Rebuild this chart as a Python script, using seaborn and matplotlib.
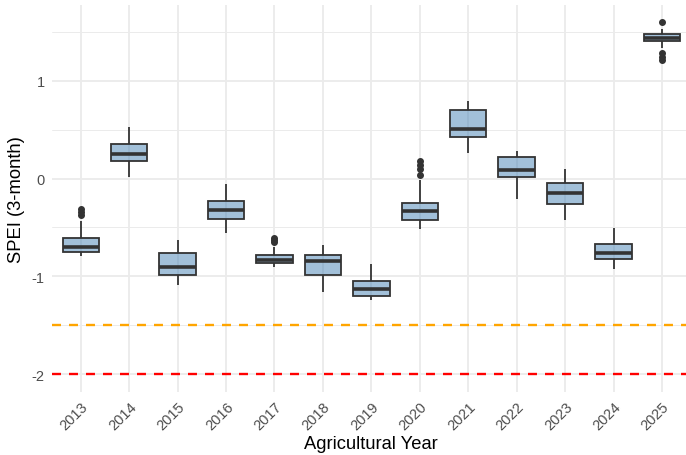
import numpy as np
import pandas as pd
import matplotlib
matplotlib.use("Agg")
import matplotlib.pyplot as plt
from matplotlib.ticker import MultipleLocator, FuncFormatter
import seaborn as sns

# SPEI (3-month) values for each agricultural year
years = ["2013", "2014", "2015", "2016", "2017", "2018", "2019",
         "2020", "2021", "2022", "2023", "2024", "2025"]

spei_2013 = [-0.79, -0.78, -0.77, -0.76, -0.76, -0.75, -0.74, -0.73, -0.72, -0.71, -0.70,
             -0.69, -0.67, -0.65, -0.63, -0.61, -0.55, -0.43, -0.37, -0.34, -0.31]
spei_2014 = [0.02, 0.07, 0.11, 0.14, 0.16, 0.18, 0.20, 0.21, 0.23, 0.24, 0.25,
             0.27, 0.29, 0.31, 0.33, 0.35, 0.38, 0.41, 0.44, 0.48, 0.53]
spei_2015 = [-1.09, -1.06, -1.04, -1.02, -1.00, -0.99, -0.97, -0.95, -0.93, -0.91, -0.90,
             -0.88, -0.85, -0.82, -0.79, -0.76, -0.73, -0.70, -0.68, -0.65, -0.63]
spei_2016 = [-0.56, -0.52, -0.48, -0.45, -0.43, -0.41, -0.39, -0.37, -0.35, -0.33, -0.32,
             -0.30, -0.28, -0.26, -0.24, -0.23, -0.19, -0.15, -0.12, -0.09, -0.06]
spei_2017 = [-0.90, -0.89, -0.88, -0.875, -0.87, -0.865, -0.86, -0.85, -0.845, -0.84, -0.83,
             -0.82, -0.81, -0.80, -0.79, -0.78, -0.76, -0.70, -0.65, -0.63, -0.61]
spei_2018 = [-1.16, -1.12, -1.08, -1.04, -1.01, -0.99, -0.96, -0.93, -0.90, -0.87, -0.84,
             -0.83, -0.82, -0.81, -0.80, -0.78, -0.76, -0.74, -0.72, -0.70, -0.68]
spei_2019 = [-1.24, -1.23, -1.22, -1.21, -1.21, -1.20, -1.18, -1.17, -1.15, -1.14, -1.13,
             -1.11, -1.10, -1.08, -1.07, -1.05, -1.01, -0.97, -0.94, -0.90, -0.87]
spei_2020 = [-0.52, -0.50, -0.47, -0.45, -0.43, -0.425, -0.40, -0.38, -0.36, -0.35, -0.33,
             -0.31, -0.30, -0.28, -0.26, -0.245, -0.02, 0.04, 0.10, 0.14, 0.18]
spei_2021 = [0.26, 0.30, 0.34, 0.37, 0.40, 0.42, 0.44, 0.46, 0.48, 0.49, 0.51,
             0.54, 0.58, 0.62, 0.66, 0.70, 0.72, 0.74, 0.76, 0.78, 0.79]
spei_2022 = [-0.21, -0.15, -0.10, -0.05, -0.01, 0.02, 0.04, 0.05, 0.07, 0.08, 0.09,
             0.11, 0.14, 0.17, 0.20, 0.22, 0.23, 0.24, 0.25, 0.27, 0.28]
spei_2023 = [-0.42, -0.38, -0.34, -0.31, -0.28, -0.26, -0.23, -0.21, -0.19, -0.17, -0.15,
             -0.13, -0.11, -0.09, -0.07, -0.05, -0.02, 0.01, 0.04, 0.07, 0.10]
spei_2024 = [-0.92, -0.90, -0.87, -0.85, -0.83, -0.82, -0.80, -0.79, -0.78, -0.77, -0.76,
             -0.74, -0.72, -0.70, -0.69, -0.67, -0.63, -0.60, -0.57, -0.54, -0.51]
spei_2025 = [1.21, 1.24, 1.28, 1.33, 1.37, 1.40, 1.41, 1.42, 1.43, 1.435, 1.44,
             1.45, 1.455, 1.46, 1.47, 1.475, 1.49, 1.50, 1.51, 1.53, 1.60]

series = [spei_2013, spei_2014, spei_2015, spei_2016, spei_2017, spei_2018, spei_2019,
          spei_2020, spei_2021, spei_2022, spei_2023, spei_2024, spei_2025]

# Drought thresholds
moderate_drought = -1.5
severe_drought = -2.0

df = pd.DataFrame({
    "year": np.repeat(years, [len(s) for s in series]),
    "spei": np.concatenate(series),
})

sns.set_theme(style="white")
plt.rcParams["font.family"] = ["Liberation Sans", "DejaVu Sans"]

fig = plt.figure(figsize=(6.86, 4.56), dpi=100)
ax = fig.add_axes([51.7 / 686, 63 / 456, (691 - 51.7) / 686, (393 - 5.7) / 456])

dark = "#333333"
sns.boxplot(
    data=df, x="year", y="spei", order=years, ax=ax,
    width=0.75, saturation=1, whis=1.5, showcaps=False,
    linecolor=dark, linewidth=1.3,
    boxprops=dict(facecolor=(70 / 255, 130 / 255, 180 / 255, 0.5), edgecolor=dark),
    medianprops=dict(color=dark, linewidth=2.6),
    whiskerprops=dict(color=dark, linewidth=1.3),
    flierprops=dict(marker="o", markerfacecolor=dark, markeredgecolor=dark,
                    markersize=4, linestyle="none"),
    zorder=3,
)

ax.axhline(moderate_drought, color="#FFA500", linewidth=1.7, dashes=(3.8, 3.4), zorder=2)
ax.axhline(severe_drought, color="#FF0000", linewidth=1.7, dashes=(3.8, 3.4), zorder=2)

ax.set_xlim(-0.6, len(years) - 1 + 0.6)
ax.set_ylim(-2.18, 1.775)
ax.yaxis.set_major_locator(MultipleLocator(1))
ax.yaxis.set_minor_locator(MultipleLocator(0.5))
ax.yaxis.set_major_formatter(FuncFormatter(lambda v, p: f"{v:g}"))

ax.set_axisbelow(True)
ax.grid(which="major", axis="both", color="#ebebeb", linewidth=1.3)
ax.grid(which="minor", axis="y", color="#ebebeb", linewidth=0.7)
ax.tick_params(which="both", length=0)
ax.tick_params(axis="y", labelsize=10.5, labelcolor="#4d4d4d", pad=5)
ax.tick_params(axis="x", labelsize=10.5, labelcolor="#4d4d4d", pad=5)
for lab in ax.get_xticklabels():
    lab.set_rotation(45)
    lab.set_ha("right")
    lab.set_va("top")
    lab.set_rotation_mode("anchor")

for sp in ax.spines.values():
    sp.set_visible(False)

ax.set_xlabel("Agricultural Year", fontsize=13.2, color="black", labelpad=2)
ax.set_ylabel("SPEI (3-month)", fontsize=13.2, color="black", labelpad=5)

fig.savefig("out.png", dpi=100)
